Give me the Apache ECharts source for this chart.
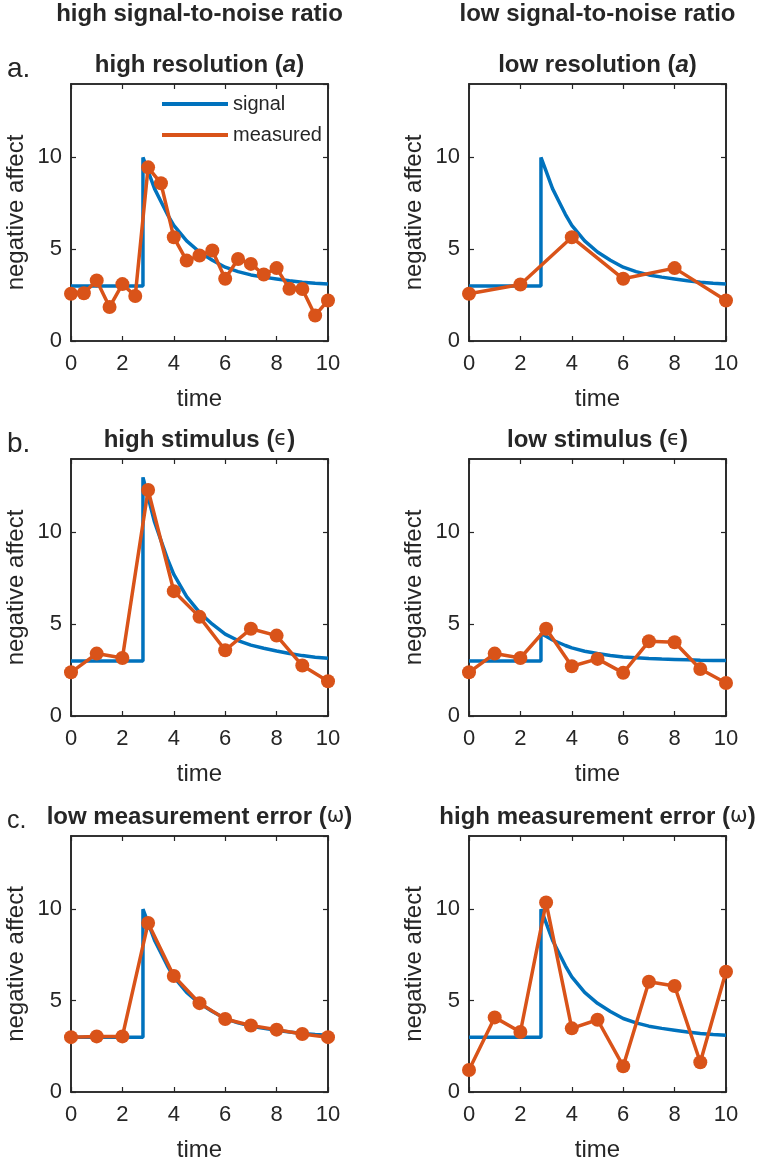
<!DOCTYPE html>
<html>
<head>
<meta charset="utf-8">
<script src="https://cdn.jsdelivr.net/npm/echarts@6/dist/echarts.min.js"></script>
<style>
  html, body { margin: 0; padding: 0; background: #fff; }
  #chart { width: 760px; height: 1163px; }
</style>
</head>
<body>
<div id="chart"></div>
<script>
var chart = echarts.init(document.getElementById("chart"));

// 真实信号（曲线读自图中）
var signalTime = [0, 2.8, 2.8, 3, 3.25, 3.5, 3.75, 4, 4.5, 5, 5.5, 6, 6.5, 7, 7.5, 8, 8.5, 9, 9.5, 10];
var signalBase = [3, 3, 10, 9.25, 8.3, 7.6, 6.9, 6.3, 5.45, 4.85, 4.4, 4.02, 3.78, 3.6, 3.48, 3.38, 3.28, 3.2, 3.14, 3.1];
var signalHighStim = [3, 3, 13, 11.93, 10.57, 9.57, 8.57, 7.71, 6.5, 5.64, 5.0, 4.46, 4.11, 3.86, 3.69, 3.54, 3.4, 3.29, 3.2, 3.14];
var signalLowStim = [3, 3, 4.5, 4.34, 4.14, 3.99, 3.84, 3.71, 3.53, 3.4, 3.3, 3.22, 3.17, 3.13, 3.1, 3.08, 3.06, 3.04, 3.03, 3.02];

// 测量值
var timeFine = [0, 0.5, 1, 1.5, 2, 2.5, 3, 3.5, 4, 4.5, 5, 5.5, 6, 6.5, 7, 7.5, 8, 8.5, 9, 9.5, 10];
var timeCoarse = [0, 2, 4, 6, 8, 10];
var timeUnit = [0, 1, 2, 3, 4, 5, 6, 7, 8, 9, 10];

var measHighRes = [2.57, 2.6, 3.3, 1.85, 3.1, 2.45, 9.46, 8.59, 5.65, 4.38, 4.66, 4.93, 3.39, 4.47, 4.2, 3.62, 3.97, 2.84, 2.83, 1.39, 2.21];
var measLowRes = [2.57, 3.08, 5.65, 3.39, 3.97, 2.21];
var measHighStim = [2.38, 3.4, 3.16, 12.31, 6.8, 5.4, 3.58, 4.75, 4.38, 2.75, 1.89];
var measLowStim = [2.38, 3.4, 3.16, 4.75, 2.71, 3.11, 2.35, 4.07, 4.02, 2.56, 1.8];
var measLowErr = [3.0, 3.04, 3.04, 9.24, 6.34, 4.86, 3.99, 3.64, 3.41, 3.17, 3.0];
var measHighErr = [1.2, 4.08, 3.28, 10.36, 3.48, 3.95, 1.41, 6.03, 5.8, 1.63, 6.58];

var colHeaders = ["high signal-to-noise ratio", "low signal-to-noise ratio"];
var panelLetters = ["a.", "b.", "c."];

var panels = [
    { title: "{b|high resolution (}{i|a}{b|)}", signal: signalBase, t: timeFine, y: measHighRes },
    { title: "{b|low resolution (}{i|a}{b|)}", signal: signalBase, t: timeCoarse, y: measLowRes },
    { title: "{b|high stimulus (}{g|\u03f5}{b|)}", signal: signalHighStim, t: timeUnit, y: measHighStim },
    { title: "{b|low stimulus (}{g|\u03f5}{b|)}", signal: signalLowStim, t: timeUnit, y: measLowStim },
    { title: "{b|low measurement error (}{g|\u03c9}{b|)}", signal: signalBase, t: timeUnit, y: measLowErr },
    { title: "{b|high measurement error (}{g|\u03c9}{b|)}", signal: signalBase, t: timeUnit, y: measHighErr }
];

var FONT = "Liberation Sans";
var ink = "#262626";
var blue = "#0072BD";
var orange = "#D95319";

var colLeft = [71, 469];
var rowTop = [84, 459, 836];
var boxW = 257;
var boxH = 257;

var grids = [], xAxes = [], yAxes = [], series = [], titles = [];

var titleRich = {
    b: { fontFamily: FONT, fontWeight: "bold", fontSize: 24, color: ink },
    i: { fontFamily: FONT, fontWeight: "bold", fontStyle: "italic", fontSize: 24, color: ink },
    g: { fontFamily: "DejaVu Sans", fontWeight: "normal", fontSize: 21, color: ink }
};

colHeaders.forEach(function (h, c) {
    titles.push({
        text: h, left: colLeft[c] + boxW / 2, top: 14, textAlign: "center", textVerticalAlign: "middle", padding: 0,
        textStyle: { fontFamily: FONT, fontWeight: "bold", fontSize: 24, color: ink }
    });
});

var letterY = [69, 444, 821];
var letterSize = [28, 28, 25];
panelLetters.forEach(function (l, r) {
    titles.push({
        text: l, left: 7, top: letterY[r], textVerticalAlign: "middle", padding: 0,
        textStyle: { fontFamily: FONT, fontWeight: "normal", fontSize: letterSize[r], color: ink }
    });
});

function axisLine() {
    return { show: true, onZero: false, lineStyle: { color: ink, width: 1.6 } };
}
function axisTick() {
    return { show: true, inside: true, length: 5, lineStyle: { color: ink, width: 1.2 } };
}

panels.forEach(function (p, i) {
    var r = Math.floor(i / 2), c = i % 2;
    var left = colLeft[c], top = rowTop[r];
    grids.push({
        left: left, top: top, width: boxW, height: boxH,
        show: true, borderColor: ink, borderWidth: 1.6, backgroundColor: "transparent"
    });

    titles.push({
        text: p.title, left: left + boxW / 2, top: top - 19, textAlign: "center", textVerticalAlign: "middle", padding: 0,
        textStyle: { rich: titleRich }
    });

    xAxes.push({
        gridIndex: i, type: "value", min: 0, max: 10, interval: 2, position: "bottom",
        axisLine: axisLine(), axisTick: axisTick(), splitLine: { show: false },
        axisLabel: { fontFamily: FONT, fontSize: 22, color: ink, margin: 12 },
        name: "time", nameLocation: "middle", nameGap: 46,
        nameTextStyle: { fontFamily: FONT, fontSize: 24, color: ink }
    });
    xAxes.push({
        gridIndex: i, type: "value", min: 0, max: 10, interval: 2, position: "top", show: true,
        axisLine: axisLine(), axisTick: axisTick(), splitLine: { show: false }, axisLabel: { show: false }
    });
    yAxes.push({
        gridIndex: i, type: "value", min: 0, max: 14, interval: 5, position: "left",
        axisLine: axisLine(), axisTick: axisTick(), splitLine: { show: false },
        axisLabel: { fontFamily: FONT, fontSize: 22, color: ink, margin: 9, showMaxLabel: false },
        name: "negative affect", nameLocation: "middle", nameGap: 43,
        nameTextStyle: { fontFamily: FONT, fontSize: 24, color: ink }
    });
    yAxes.push({
        gridIndex: i, type: "value", min: 0, max: 14, interval: 5, position: "right", show: true,
        axisLine: axisLine(), axisTick: axisTick(), splitLine: { show: false }, axisLabel: { show: false }
    });

    series.push({
        name: "signal", type: "line", xAxisIndex: 2 * i, yAxisIndex: 2 * i,
        data: signalTime.map(function (t, k) { return [t, p.signal[k]]; }),
        symbol: "none", clip: false, lineStyle: { color: blue, width: 3.5 }, itemStyle: { color: blue }, z: 2
    });
    series.push({
        name: "measured", type: "line", xAxisIndex: 2 * i, yAxisIndex: 2 * i,
        data: p.t.map(function (t, k) { return [t, p.y[k]]; }),
        symbol: "circle", symbolSize: 14, clip: false,
        lineStyle: { color: orange, width: 3.5 }, itemStyle: { color: orange }, z: 3
    });
    // 仅用于绘制顶部和右侧的刻度
    series.push({
        type: "line", xAxisIndex: 2 * i + 1, yAxisIndex: 2 * i + 1,
        data: [], silent: true, symbol: "none"
    });
});

var option = {
    animation: false,
    title: titles,
    grid: grids,
    xAxis: xAxes,
    yAxis: yAxes,
    legend: {
        data: [{ name: "signal", icon: "rect" }, { name: "measured", icon: "rect" }],
        orient: "vertical", left: 162, top: 94, padding: 0,
        itemWidth: 66, itemHeight: 4, itemGap: 11,
        textStyle: { fontFamily: FONT, fontSize: 20, color: ink }
    },
    series: series
};

chart.setOption(option);
</script>
</body>
</html>
